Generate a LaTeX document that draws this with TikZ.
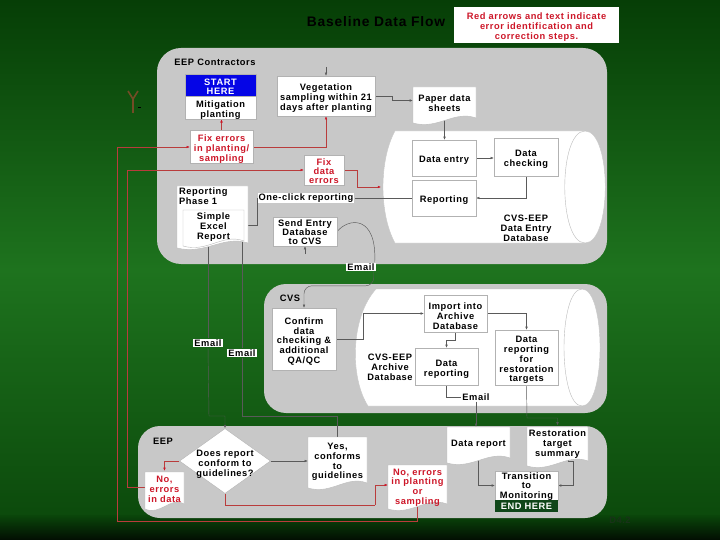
\documentclass[tikz,border=0pt]{standalone}
\usepackage{fontspec}
\setmainfont{Liberation Sans}[LetterSpace=6]
\usetikzlibrary{arrows.meta,shapes.geometric,calc}
\definecolor{panelgray}{RGB}{200,200,200}
\definecolor{errred}{RGB}{205,22,40}
\definecolor{errline}{RGB}{185,60,60}
\definecolor{linegray}{RGB}{90,90,90}
\definecolor{startblue}{RGB}{5,5,230}
\definecolor{enddark}{RGB}{15,70,25}
\definecolor{bgtop}{RGB}{6,62,6}
\definecolor{bgmid}{RGB}{30,115,30}
\definecolor{bgbot}{RGB}{10,70,10}
\definecolor{d42col}{RGB}{25,50,25}
\pgfdeclarelayer{bg}\pgfdeclarelayer{lines}\pgfsetlayers{bg,lines,main}
\newcommand\docshape[4]{%
  \filldraw[docline] (#1,#2) -- (#3,#2) -- (#3,{#4-4})
   .. controls ({#3-0.35*(#3-#1)},{#4-12}) and ({#1+0.4*(#3-#1)},{#4+8}) .. (#1,{#4+1}) -- cycle;}
\newcommand\st{\rule{0pt}{11.5pt}}
\newcommand\sth{\rule{0pt}{8.8pt}}
\begin{document}
\begin{tikzpicture}[x=1pt,y=-1pt,
  txt/.style={font=\bfseries\fontsize{9.3}{9.8}\selectfont, align=center, inner sep=0pt},
  bt/.style={txt, execute at begin node={\st}},
  sz/.style 2 args={minimum width=#1pt, minimum height=#2pt},
  box/.style={bt, draw=gray!60, line width=0.4pt, fill=white},
  tbox/.style={txt, draw=gray!60, line width=0.4pt, fill=white, font=\bfseries\fontsize{9.3}{#1}\selectfont},
  lbl/.style={txt, fill=white, inner sep=1pt},
  docline/.style={fill=white, draw=gray!55, line width=0.4pt},
  conn/.style={draw=linegray, line width=0.45pt, -{Latex[length=3.2pt,width=2.6pt]}},
  plainln/.style={draw=linegray, line width=0.45pt},
  rconn/.style={draw=errline, line width=0.45pt, -{Latex[length=3.2pt,width=2.6pt,color=errred]}},
  rplain/.style={draw=errline, line width=0.45pt}]
\useasboundingbox (0,0) rectangle (720,540);
\begin{pgfonlayer}{bg}
  \shade[top color=bgtop, bottom color=bgbot, middle color=bgmid] (0,0) rectangle (720,540);
  \shade[top color=bgbot, bottom color=black!80!bgbot] (0,515) rectangle (720,540);
  % panels
  \fill[panelgray, rounded corners=24pt] (157,48) rectangle (607,264);
  \fill[panelgray, rounded corners=22pt] (264,284) rectangle (607,413);
  \fill[panelgray, rounded corners=22pt] (138,426) rectangle (607,518);
  % database cylinders
  \filldraw[fill=white, draw=gray!45, line width=0.4pt] (395,131) -- (585,131) .. controls (612,131) and (612,243) .. (585,243) -- (395,243) .. controls (379,214) and (379,160) .. (395,131) -- cycle;
  \draw[gray!55, line width=0.4pt] (585,131) .. controls (558,131) and (558,243) .. (585,243);
  \filldraw[fill=white, draw=gray!45, line width=0.4pt] (376,289) -- (582,289) .. controls (606,289) and (606,406) .. (582,406) -- (368,406) .. controls (350,378) and (350,318) .. (376,289) -- cycle;
  \draw[gray!55, line width=0.4pt] (582,289) .. controls (558,289) and (558,406) .. (582,406);
  % small brown figure
  \draw[brown!60!black, line width=1.6pt] (133,113) -- (133,99) (128,91) -- (133,99) -- (138,91);
  \draw[black, line width=0.8pt] (138,107) -- (141,107);
\end{pgfonlayer}

% title and note
\node[font=\bfseries\fontsize{13.8}{15}\selectfont] (title) at (376,22) {Baseline Data Flow};
\node[bt, fill=white, text=errred, sz={165}{36}] (note) at (536.5,25) {\st Red arrows and text indicate\\error identification and\\correction steps.};

% ---------- panel 1 ----------
\node[txt] (eepc) at (215,62) {EEP Contractors};
\node[tbox=8.3, fill=startblue, text=white, sz={71}{23}] (start) at (220.5,85.5) {\sth START\\HERE};
\node[box, sz={71}{21}] (mit) at (220.5,107.5) {\st Mitigation\\planting};
\node[box, sz={98}{40}] (veg) at (326,96) {\st Vegetation\\sampling within 21\\days after planting};
\docshape{413}{87}{476}{122}
\node[bt, sz={63}{27}] (paper) at (444.5,100.5) {\st Paper data\\sheets};
\node[box, sz={64}{36}] (dentry) at (444,158) {Data entry};
\node[box, sz={64}{38}] (dcheck) at (526,157) {\st Data\\checking};
\node[box, sz={64}{36}] (report) at (444,198) {Reporting};
\node[txt] (cvsdb) at (526,228) {CVS-EEP\\Data Entry\\Database};
\node[box, text=errred, sz={63}{32}] (fixplant) at (221.5,147) {\st Fix errors\\in planting/\\sampling};
\node[tbox=9, text=errred, sz={40}{30}] (fixdata) at (324,170) {\sth Fix\\data\\errors};
\node[lbl] (oneclick) at (306,198) {One-click reporting};
\docshape{177}{186}{248}{247}
\node[inner sep=0pt, sz={71}{61}] (rep1) at (212.5,216.5) {};
\node[txt, align=left, anchor=north west] (rep1t) at (179,188) {Reporting\\Phase 1};
\docshape{183}{210}{244}{245}
\node[bt, sz={61}{30}] (excel) at (213.5,225) {\st Simple\\Excel\\Report};
\node[tbox=9, sz={64}{29}] (sendentry) at (305,231.5) {\sth Send Entry\\Database\\to CVS};
\node[lbl] (email1) at (361,267) {Email};
\coordinate (db1w) at (381,187);

% ---------- panel 2 ----------
\node[txt] (cvs) at (290,298) {CVS};
\node[box, sz={64}{62}] (confirm) at (304,339) {\st Confirm\\data\\checking \&\\additional\\QA/QC};
\node[box, sz={63}{37}] (import) at (455.5,313.5) {\st Import into\\Archive\\Database};
\node[box, sz={63}{37}] (drep) at (446.5,366.5) {\st Data\\reporting};
\node[box, sz={63}{55}] (drest) at (526.5,357.5) {\st Data\\reporting\\for\\restoration\\targets};
\node[txt] (archdb) at (390,367) {CVS-EEP\\Archive\\Database};
\node[lbl] (email2) at (476,397) {Email};
\node[lbl] (email3) at (208,343) {Email};
\node[lbl] (email4) at (242,353) {Email};

% ---------- panel 3 ----------
\node[txt] (eep) at (163,441) {EEP};
\node[diamond, fill=white, draw=gray!60, line width=0.4pt, minimum width=91pt, minimum height=65pt, inner sep=0pt] (dq) at (225,461) {};
\node[bt] (dqt) at (225,462) {\st Does report\\conform to\\guidelines?};
\docshape{308}{437}{367}{487}
\node[bt, sz={59}{45}] (yes) at (337.5,459.5) {\st Yes,\\conforms\\to\\guidelines};
\docshape{145}{472}{184}{508}
\node[bt, text=errred, sz={39}{32}] (nodata) at (164.5,487) {\st No,\\errors\\in data};
\docshape{388}{465}{447}{508}
\node[bt, text=errred, sz={59}{40}] (noplant) at (417.5,485) {\st No, errors\\in planting\\or\\sampling};
\docshape{447}{427}{510}{462}
\node[bt, sz={63}{29}] (datarep) at (478.5,441.5) {Data report};
\docshape{527}{427}{588}{465}
\node[bt, sz={61}{31}] (restsum) at (557.5,442) {\st Restoration\\target\\summary};
\node[tbox=9.4, sz={63}{29}] (trans) at (526.5,485.5) {\sth Transition\\to\\Monitoring};
\node[txt, fill=enddark, text=white, sz={63}{12}] (endh) at (526.5,506) {END HERE};
\node[txt, text=d42col] (d42) at (620,520) {D4.2};

\coordinate (j1) at (209,416);
\coordinate (j2) at (242,416);
\coordinate (j3) at (527,418);
\coordinate (j4) at (375,505);
\coordinate (j5) at (117,521);

% ---------- connectors ----------
\begin{pgfonlayer}{lines}
  \draw[conn] ([yshift=9pt]veg.north) -- (veg.north);
  \draw[conn] (veg.east) -- ++(17,0) |- (paper.west);
  \draw[conn] (paper.south) -- (paper.south |- dentry.north);
  \draw[conn] (dentry.east) -- (dentry.east -| dcheck.west);
  \draw[conn] (dcheck.south) |- (report.east);
  \draw[plainln] (report.west) -- (oneclick.east);
  \draw[conn] (oneclick.west) |- (excel.east);
  \draw[conn] ([yshift=-8pt]sendentry.south) -- (sendentry.south);
  \draw[plainln] (sendentry.east) .. controls (348,218) and (377,214) .. ([xshift=-1pt]email1.north east);
  \draw[conn, rounded corners=8pt] ([xshift=-2pt]email1.south east) |- ([yshift=22pt]confirm.north) -- (confirm.north);
  % red correction loops in panel 1
  \draw[rconn] (fixplant.north) -- (fixplant.north |- mit.south);
  \draw[rconn] (fixplant.east) -| (veg.south);
  \draw[rconn] (fixdata.east) -- ++(13,0) |- (db1w);
  % panel 2
  \draw[conn] (confirm.east) -- ++(27,0) |- (import.west);
  \draw[conn] (import.south) -- ++(0,8) -| (drep.north);
  \draw[conn] (import.east) -| (drest.north);
  \draw[plainln] (drep.south) |- (email2.west);
  \draw[conn] (email2.south) -- (email2.south |- datarep.north);
  \draw[conn] (drest.south) -- (j3) -| (restsum.north);
  % reports down to EEP
  \draw[plainln] (email3.north |- rep1.south) -- (email3.north);
  \draw[conn] (email3.south) -- (j1) -| (dq.north);
  \draw[plainln] (email4.north |- excel.south) -- (email4.north);
  \draw[plainln] (email4.south) -- (j2) -| (yes.north);
  % panel 3
  \draw[conn] (dq.east) -- (dq.east -| yes.west);
  \draw[rconn] (dq.west) -| (nodata.north);
  \draw[rplain] (dq.south) |- (j4);
  \draw[rconn] (j4) |- (noplant.west);
  \draw[conn] (datarep.south) |- (trans.west);
  \draw[conn] ([xshift=-20pt]restsum.south east) -- ++(0,3) -- ++(5,0) |- (trans.east);
  % long red feedback lines
  \draw[rconn] (nodata.west) -- ++(-18,0) |- (fixdata.west);
  \draw[rconn] (noplant.south) |- (j5) |- (fixplant.west);
\end{pgfonlayer}
\end{tikzpicture}
\end{document}
